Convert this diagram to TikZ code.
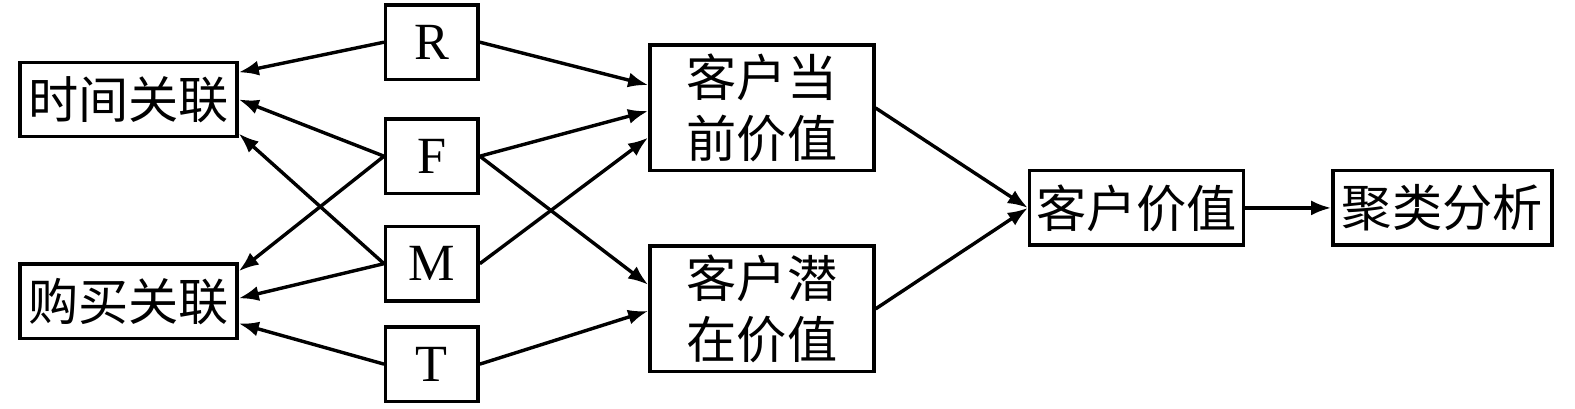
\documentclass[tikz,border=0pt]{standalone}
\usepackage{fontspec}
\setmainfont{Liberation Serif}
\newfontfamily\cjk{Noto Sans CJK SC}
\usetikzlibrary{arrows.meta}
\tikzset{box/.style={draw,line width=1.7pt,inner sep=0pt,align=center,
    font=\fontsize{25}{30}\selectfont\cjk},
  wide/.style={box,minimum width=108pt,minimum height=37pt},
  tall/.style={box,minimum width=111.5pt,minimum height=62.5pt},
  letter/.style={box,minimum width=46pt,minimum height=37pt,
    font=\fontsize{26}{30}\selectfont},
  arr/.style={line width=1.7pt,-{Latex[length=10pt,width=7.5pt]}}}

\begin{document}
\begin{tikzpicture}[x=0.5pt,y=-0.5pt]
\useasboundingbox (0,0) rectangle (1568,407);
\node [wide] (time) at (128,99) {时间关联};
\node [wide] (buy) at (128,300) {购买关联};
\node [letter] (R) at (430,42) {R};
\node [letter] (F) at (430,155.5) {F};
\node [letter] (M) at (430,262.5) {M};
\node [letter] (T) at (430,362.5) {T};
\node [tall] (cur) at (758.5,107.5) {客户当\\前价值};
\node [tall] (pot) at (758.5,307.5) {客户潜\\在价值};
\node [wide,minimum width=106.5pt] (val) at (1131.5,207) {客户价值};
\node [wide,minimum width=109pt] (clu) at (1436,207) {聚类分析};
\draw [arr] (R.west) -- ([yshift=13.5pt]time.east);
\draw [arr] (F.west) -- (time.east);
\draw [arr] (M.west) -- ([yshift=-17pt]time.east);
\draw [arr] (F.west) -- ([yshift=15pt]buy.east);
\draw [arr] (M.west) -- ([yshift=1.5pt]buy.east);
\draw [arr] (T.west) -- ([yshift=-11pt]buy.east);
\draw [arr] (R.east) -- ([yshift=11.4pt]cur.west);
\draw [arr] (F.east) -- ([yshift=-1.5pt]cur.west);
\draw [arr] (M.east) -- ([yshift=-14.75pt]cur.west);
\draw [arr] (F.east) -- ([yshift=12pt]pot.west);
\draw [arr] (T.east) -- ([yshift=-1pt]pot.west);
\draw [arr] (cur.east) -- (val.west);
\draw [arr] (pot.east) -- (val.west);
\draw [arr] (val.east) -- (clu.west);
\end{tikzpicture}
\end{document}
